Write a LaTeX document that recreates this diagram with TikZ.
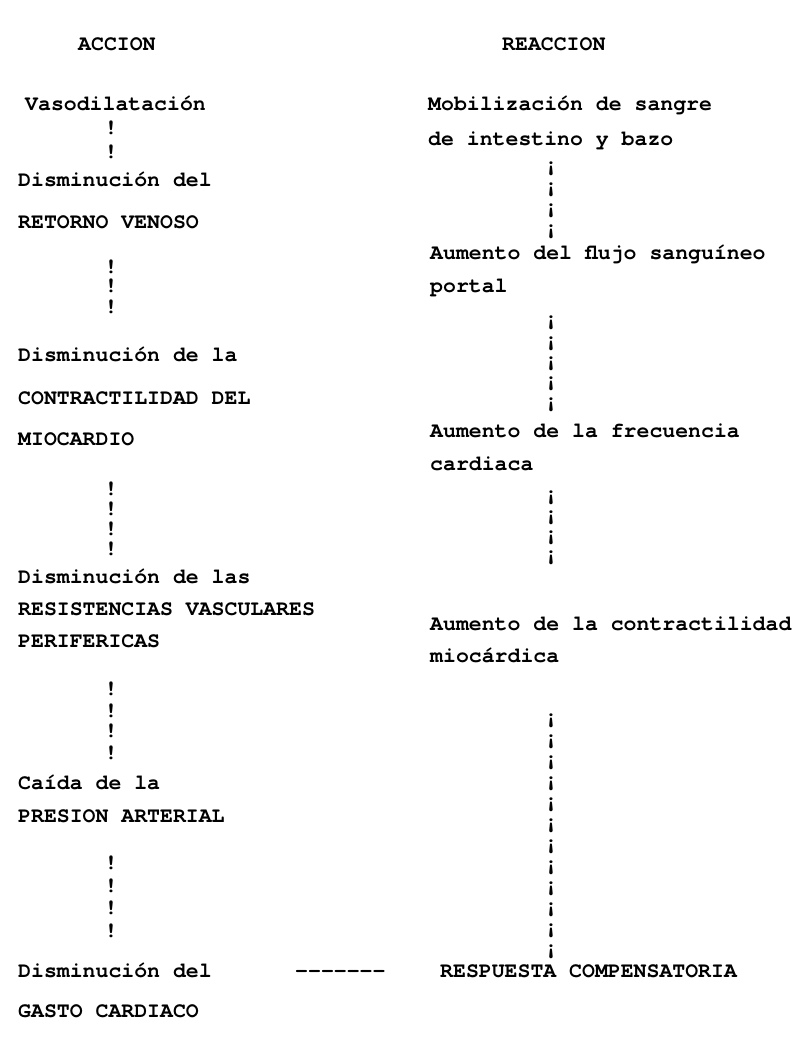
\documentclass[tikz,border=0pt]{standalone}
\usepackage{fontspec}
\newfontfamily\typewr{texgyrecursor-bold.otf}

\begin{document}
\begin{tikzpicture}[x=1pt,y=-1pt,every node/.style={inner sep=0pt,anchor=base west,font=\typewr\fontsize{21.5}{24}\selectfont},bang/.style={anchor=base}]

            \useasboundingbox (0,0) rectangle (805,1048);

            \node (accion) at (78,51) {ACCION};
            \node (reaccion) at (502,51) {REACCION};

            % accion
            \node (vaso) at (25,111) {Vasodilatación};
            \node (ret1) at (18,187) {Disminución del};
            \node (ret2) at (18,229) {RETORNO VENOSO};
            \node (con1) at (18,361) {Disminución de la};
            \node (con2) at (18,404) {CONTRACTILIDAD DEL};
            \node (con3) at (18,445) {MIOCARDIO};
            \node (res1) at (18,583) {Disminución de las};
            \node (res2) at (18,615) {RESISTENCIAS VASCULARES};
            \node (res3) at (18,647) {PERIFERICAS};
            \node (pre1) at (18,789) {Caída de la};
            \node (pre2) at (18,822) {PRESION ARTERIAL};
            \node (gas1) at (18,977) {Disminución del};
            \node (gas2) at (18,1017) {GASTO CARDIACO};

            \foreach \y [count=\i] in {128,152} \node[bang] (a\i) at (111,\y+7) {!};
            \foreach \y [count=\i] in {266,286,306} \node[bang] (b\i) at (111,\y+7) {!};
            \foreach \y [count=\i] in {488,508,528,548} \node[bang] (c\i) at (111,\y+7) {!};
            \foreach \y [count=\i] in {688,710,730,752} \node[bang] (d\i) at (111,\y+7) {!};
            \foreach \y [count=\i] in {862,885,907,930} \node[bang] (e\i) at (111,\y+7) {!};

            % reaccion
            \node (mob1) at (428,111) {Mobilización de sangre};
            \node (mob2) at (428,146) {de intestino y bazo};
            \node (flu1) at (430,260) {Aumento del flujo sanguíneo};
            \node (flu2) at (430,292) {portal};
            \node (fre1) at (430,437) {Aumento de la frecuencia};
            \node (fre2) at (430,470) {cardiaca};
            \node (ctr1) at (430,630) {Aumento de la contractilidad};
            \node (ctr2) at (430,662) {miocárdica};
            \node (resp) at (440,977) {RESPUESTA COMPENSATORIA};

            \foreach \y [count=\i] in {165,186,207,228} \node[bang] (f\i) at (551,\y+7) {¡};
            \foreach \y [count=\i] in {318,339,359,379,400} \node[bang] (g\i) at (551,\y+7) {¡};
            \foreach \y [count=\i] in {493,513,533,553} \node[bang] (h\i) at (551,\y+7) {¡};
            \foreach \k [count=\i] in {0,...,11} \node[bang] (j\i) at (551,723+21*\k) {¡};

            \node (raya) at (295,977) {-------};

            ;
        \end{tikzpicture}
\end{document}
